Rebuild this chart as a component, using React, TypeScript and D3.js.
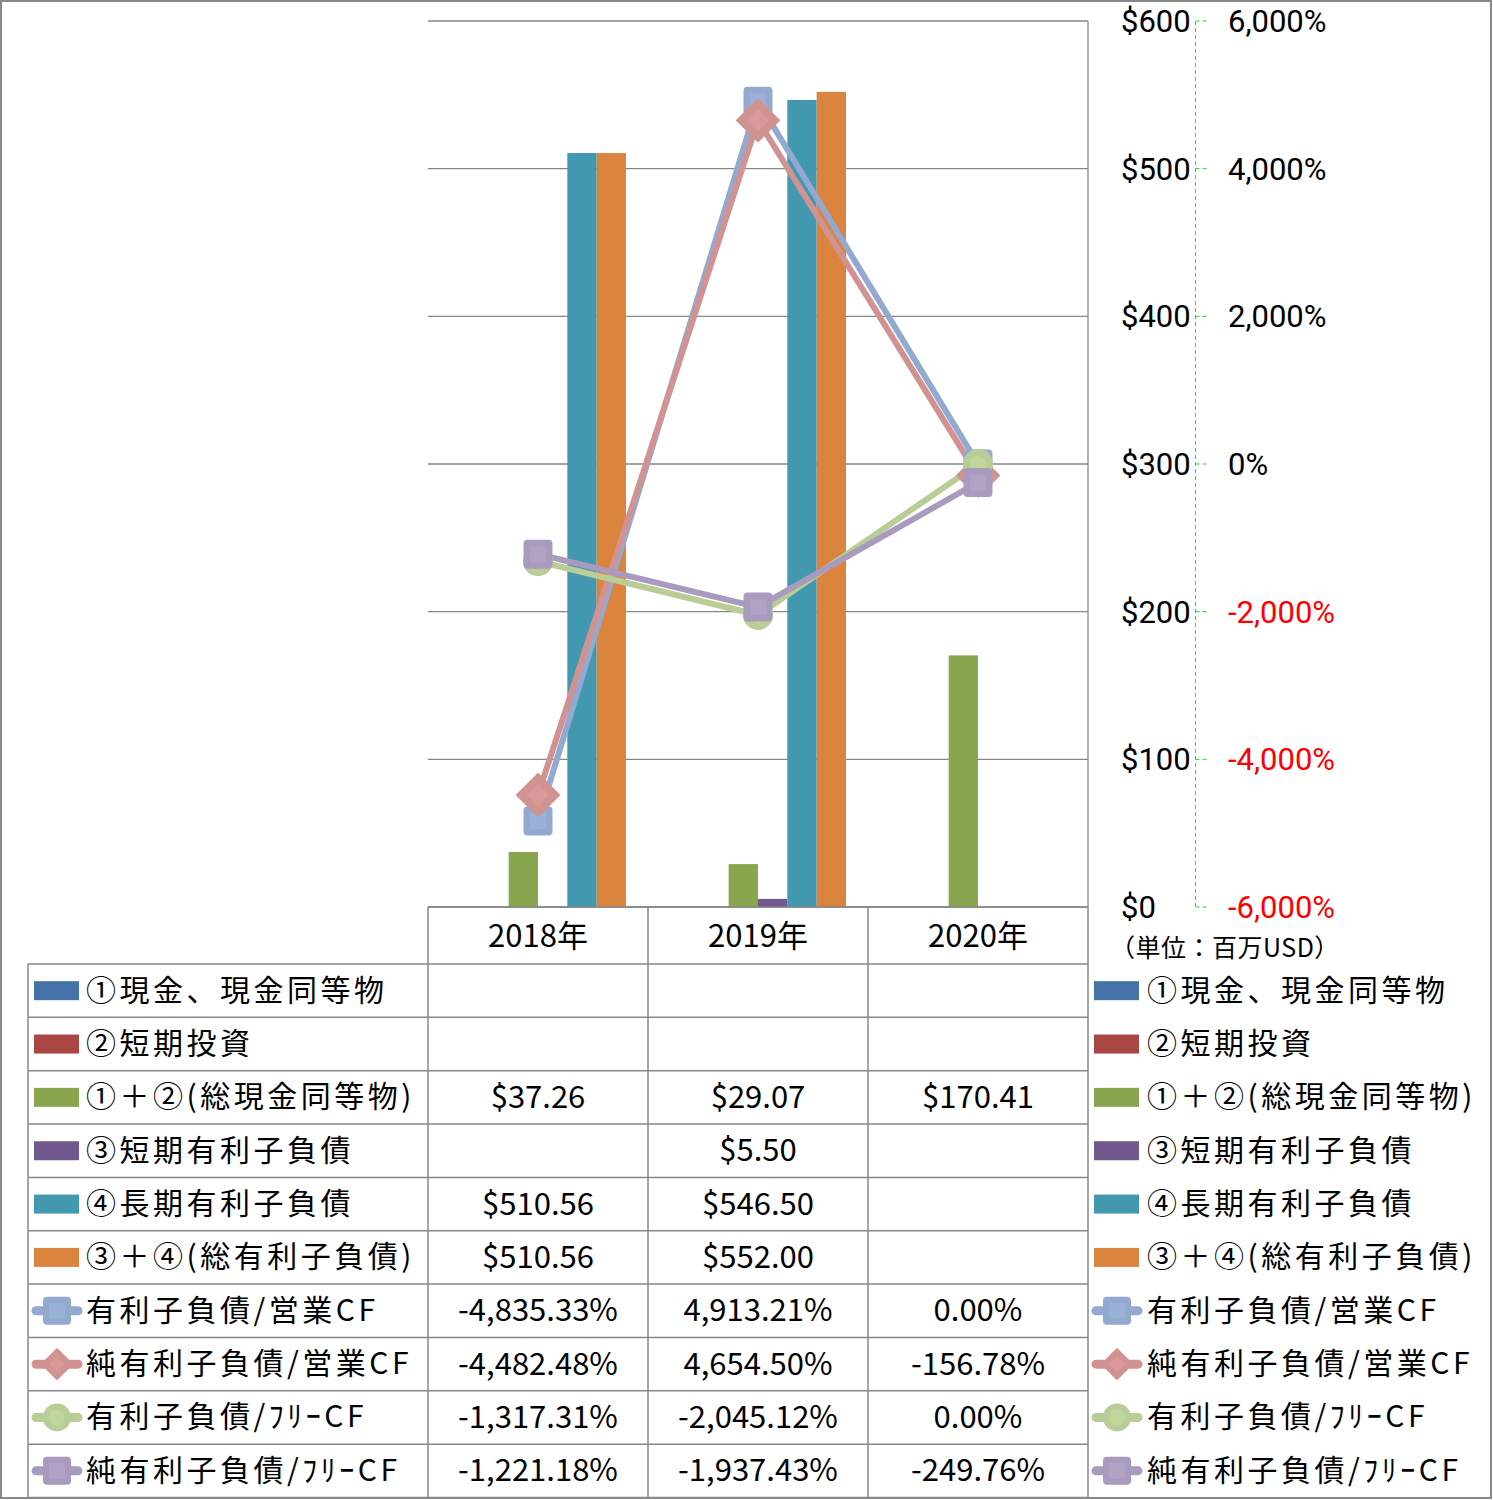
import React from 'react';
import * as d3 from 'd3';

// ---------------- data ----------------
const years = ['2018年', '2019年', '2020年'];

const barNames = [
  '①現金、現金同等物',
  '②短期投資',
  '①＋②(総現金同等物)',
  '③短期有利子負債',
  '④長期有利子負債',
  '③＋④(総有利子負債)',
];
const cashEquivalents: (number | null)[] = [null, null, null];
const shortInvestments: (number | null)[] = [null, null, null];
const totalCash: (number | null)[] = [37.26, 29.07, 170.41];
const shortDebt: (number | null)[] = [null, 5.5, null];
const longDebt: (number | null)[] = [510.56, 546.5, null];
const totalDebt: (number | null)[] = [510.56, 552.0, null];
const barColors = ['#4572A7', '#AA4643', '#89A54E', '#71588F', '#4198AF', '#DB843D'];

const lineNames = [
  '有利子負債/営業CF',
  '純有利子負債/営業CF',
  '有利子負債/ﾌﾘｰCF',
  '純有利子負債/ﾌﾘｰCF',
];
const debtToOpCF: number[] = [-4835.33, 4913.21, 0];
const netDebtToOpCF: number[] = [-4482.48, 4654.5, -156.78];
const debtToFreeCF: number[] = [-1317.31, -2045.12, 0];
const netDebtToFreeCF: number[] = [-1221.18, -1937.43, -249.76];
const lineColors = ['#93A9CF', '#D19392', '#B9CD96', '#A99BBD'];
const lineMarkers = ['square', 'diamond', 'circle', 'square'];

const leftTicks = [0, 100, 200, 300, 400, 500, 600];
const rightTicks = [-6000, -4000, -2000, 0, 2000, 4000, 6000];
const unitLabel = '（単位：百万USD）';

// ---------------- layout ----------------
const W = 1493;
const H = 1500;
const plotL = 428;
const plotR = 1088;
const plotT = 21;
const plotB = 907;
const tableL = 28;
const headerB = 964;
const rowH = 53.35;
const TY = -3; // text vertical nudge
const FONT = '"Noto Sans CJK JP", "Noto Sans", sans-serif';
const TICK_FONT = 'Roboto, "Noto Sans", sans-serif';
const GRID = '#878787';

const barSeries = [cashEquivalents, shortInvestments, totalCash, shortDebt, longDebt, totalDebt];
const lineSeries = [debtToOpCF, netDebtToOpCF, debtToFreeCF, netDebtToFreeCF];

const x = d3.scaleBand<string>().domain(years).range([plotL, plotR]).padding(0);
const xInner = d3
  .scaleBand<string>()
  .domain(barNames)
  .range([0, x.bandwidth()])
  .paddingInner(0)
  .paddingOuter(0.75);
const yL = d3.scaleLinear().domain([0, 600]).range([plotB, plotT]);
const yR = d3.scaleLinear().domain([-6000, 6000]).range([plotB, plotT]);

const loc = d3.formatLocale({ decimal: '.', thousands: ',', grouping: [3], currency: ['$', ''], minus: '-' });
const f2 = loc.format(',.2f');
const f0 = loc.format(',');
const fmtMoney = (v: number | null) => (v == null ? '' : '$' + f2(v));
const fmtPct = (v: number | null) => (v == null ? '' : f2(v) + '%');
const fmtTickMoney = (v: number) => '$' + f0(v);
const fmtTickPct = (v: number) => f0(v) + '%';

function Marker({ type, cx, cy, color, small }: { type: string; cx: number; cy: number; color: string; small?: boolean }) {
  const inner = d3.color(color)!.brighter(0.12).formatHex();
  if (type === 'square') {
    const s = small ? 28 : 29;
    return (
      <g>
        <rect x={cx - s / 2} y={cy - s / 2} width={s} height={s} rx={4} fill={color} />
        <rect x={cx - 8} y={cy - 8} width={16} height={16} fill={inner} />
      </g>
    );
  }
  if (type === 'diamond') {
    const r = small ? 15 : 21;
    const ri = small ? 8 : 11;
    return (
      <g>
        <path
          d={`M${cx},${cy - r}L${cx + r},${cy}L${cx},${cy + r}L${cx - r},${cy}Z`}
          fill={color}
          stroke={color}
          strokeWidth={2}
          strokeLinejoin="round"
        />
        <path d={`M${cx},${cy - ri}L${cx + ri},${cy}L${cx},${cy + ri}L${cx - ri},${cy}Z`} fill={inner} />
      </g>
    );
  }
  const r = small ? 14 : 15;
  return (
    <g>
      <circle cx={cx} cy={cy} r={r} fill={color} />
      <circle cx={cx} cy={cy} r={8} fill={inner} />
    </g>
  );
}

function LegendKey({ kind, idx, x0, cy }: { kind: 'bar' | 'line'; idx: number; x0: number; cy: number }) {
  if (kind === 'bar') {
    return <rect x={x0 + 2} y={cy - 9.5} width={45} height={19} fill={barColors[idx]} />;
  }
  const c = lineColors[idx];
  return (
    <g>
      <line x1={x0 + 4} x2={x0 + 46} y1={cy} y2={cy} stroke={c} strokeWidth={9} strokeLinecap="round" />
      <Marker type={lineMarkers[idx]} cx={x0 + 25} cy={cy} color={c} small />
    </g>
  );
}

export default function App() {
  const rowNames = [...barNames, ...lineNames];
  const rowCells: string[][] = [
    ...barSeries.map((s) => s.map(fmtMoney)),
    ...lineSeries.map((s) => s.map(fmtPct)),
  ];
  const nRows = rowNames.length;
  const tableB = headerB + nRows * rowH;

  const lineGen = d3
    .line<number>()
    .x((_, i) => (x(years[i]) as number) + x.bandwidth() / 2)
    .y((d) => yR(d));

  return (
    <svg
      width={W}
      height={H}
      style={{ position: 'absolute', left: 0, top: 0, background: '#fff' }}
      fontFamily={FONT}
    >
      <rect x={0} y={0} width={W} height={H} fill="#fff" />

      {/* gridlines */}
      {leftTicks.map((t) => (
        <line key={'g' + t} x1={plotL} x2={plotR} y1={yL(t)} y2={yL(t)} stroke={GRID} strokeWidth={1.3} />
      ))}
      <line x1={plotR} x2={plotR} y1={plotT} y2={plotB} stroke={GRID} strokeWidth={1.3} />

      {/* bars */}
      {barSeries.map((s, si) =>
        s.map((v, yi) =>
          v == null ? null : (
            <rect
              key={`b${si}-${yi}`}
              x={(x(years[yi]) as number) + (xInner(barNames[si]) as number)}
              y={yL(v)}
              width={xInner.bandwidth()}
              height={yL(0) - yL(v)}
              fill={barColors[si]}
            />
          )
        )
      )}

      {/* lines */}
      {lineSeries.map((s, li) => (
        <path
          key={'l' + li}
          d={lineGen(s) as string}
          fill="none"
          stroke={lineColors[li]}
          strokeWidth={6}
          strokeLinejoin="round"
          strokeLinecap="round"
        />
      ))}
      {lineSeries.map((s, li) =>
        s.map((v, yi) => (
          <Marker
            key={`m${li}-${yi}`}
            type={lineMarkers[li]}
            cx={(x(years[yi]) as number) + x.bandwidth() / 2}
            cy={yR(v)}
            color={lineColors[li]}
          />
        ))
      )}

      {/* right axis (secondary, dashed green) */}
      <line x1={1195.5} x2={1195.5} y1={plotT} y2={plotB} stroke="#22dd22" strokeWidth={1} strokeDasharray="4,3" />
      {rightTicks.map((t) => (
        <line key={'rt' + t} x1={1195.5} x2={1207} y1={yR(t)} y2={yR(t)} stroke="#22dd22" strokeWidth={1} strokeDasharray="4,3" />
      ))}
      {leftTicks.map((t) => (
        <text
          key={'lt' + t}
          x={1121}
          y={yL(t) + 11}
          fontFamily={TICK_FONT}
          fontSize={31}
          fill="#000"
        >
          {fmtTickMoney(t)}
        </text>
      ))}
      {rightTicks.map((t) => (
        <text
          key={'rl' + t}
          x={1228}
          y={yR(t) + 11}
          fontFamily={TICK_FONT}
          fontSize={31}
          fill={t < 0 ? '#FF0000' : '#000'}
        >
          {fmtTickPct(t)}
        </text>
      ))}
      <text x={1110} y={946} dominantBaseline="central" fontSize={25} letterSpacing={0.5} fill="#000">
        {unitLabel}
      </text>

      {/* data table */}
      <line x1={plotL} x2={plotR} y1={plotB} y2={plotB} stroke={GRID} strokeWidth={1.5} />
      {years.map((yr, i) => (
        <text
          key={'yr' + i}
          x={(x(yr) as number) + x.bandwidth() / 2}
          y={(plotB + headerB) / 2 + TY + 1}
          textAnchor="middle"
          dominantBaseline="central"
          fontSize={31}
        >
          {yr}
        </text>
      ))}
      {d3.range(nRows + 1).map((r) => (
        <line
          key={'hr' + r}
          x1={tableL}
          x2={plotR}
          y1={headerB + r * rowH}
          y2={headerB + r * rowH}
          stroke={GRID}
          strokeWidth={1.5}
        />
      ))}
      <line x1={tableL} x2={tableL} y1={headerB} y2={tableB} stroke={GRID} strokeWidth={1.5} />
      {years.map((yr, i) => (
        <line
          key={'vc' + i}
          x1={x(yr) as number}
          x2={x(yr) as number}
          y1={plotB}
          y2={tableB}
          stroke={GRID}
          strokeWidth={1.5}
        />
      ))}
      <line x1={plotR} x2={plotR} y1={plotB} y2={tableB} stroke={GRID} strokeWidth={1.5} />

      {rowNames.map((name, r) => {
        const cy = headerB + (r + 0.5) * rowH;
        const kind = r < barNames.length ? 'bar' : 'line';
        const idx = kind === 'bar' ? r : r - barNames.length;
        return (
          <g key={'row' + r}>
            <LegendKey kind={kind} idx={idx} x0={32} cy={cy} />
            <text x={86} y={cy + TY} dominantBaseline="central" fontSize={30} letterSpacing={3.5}>
              {name}
            </text>
            {rowCells[r].map((c, ci) => (
              <text
                key={'c' + ci}
                x={(x(years[ci]) as number) + x.bandwidth() / 2}
                y={cy + TY}
                textAnchor="middle"
                dominantBaseline="central"
                fontSize={31}
              >
                {c}
              </text>
            ))}
            <LegendKey kind={kind} idx={idx} x0={1092} cy={cy} />
            <text x={1147} y={cy + TY} dominantBaseline="central" fontSize={30} letterSpacing={3.5}>
              {name}
            </text>
          </g>
        );
      })}

      {/* outer chart border */}
      <rect x={1} y={1} width={W - 3} height={H - 3} fill="none" stroke="#898989" strokeWidth={2} />
    </svg>
  );
}
